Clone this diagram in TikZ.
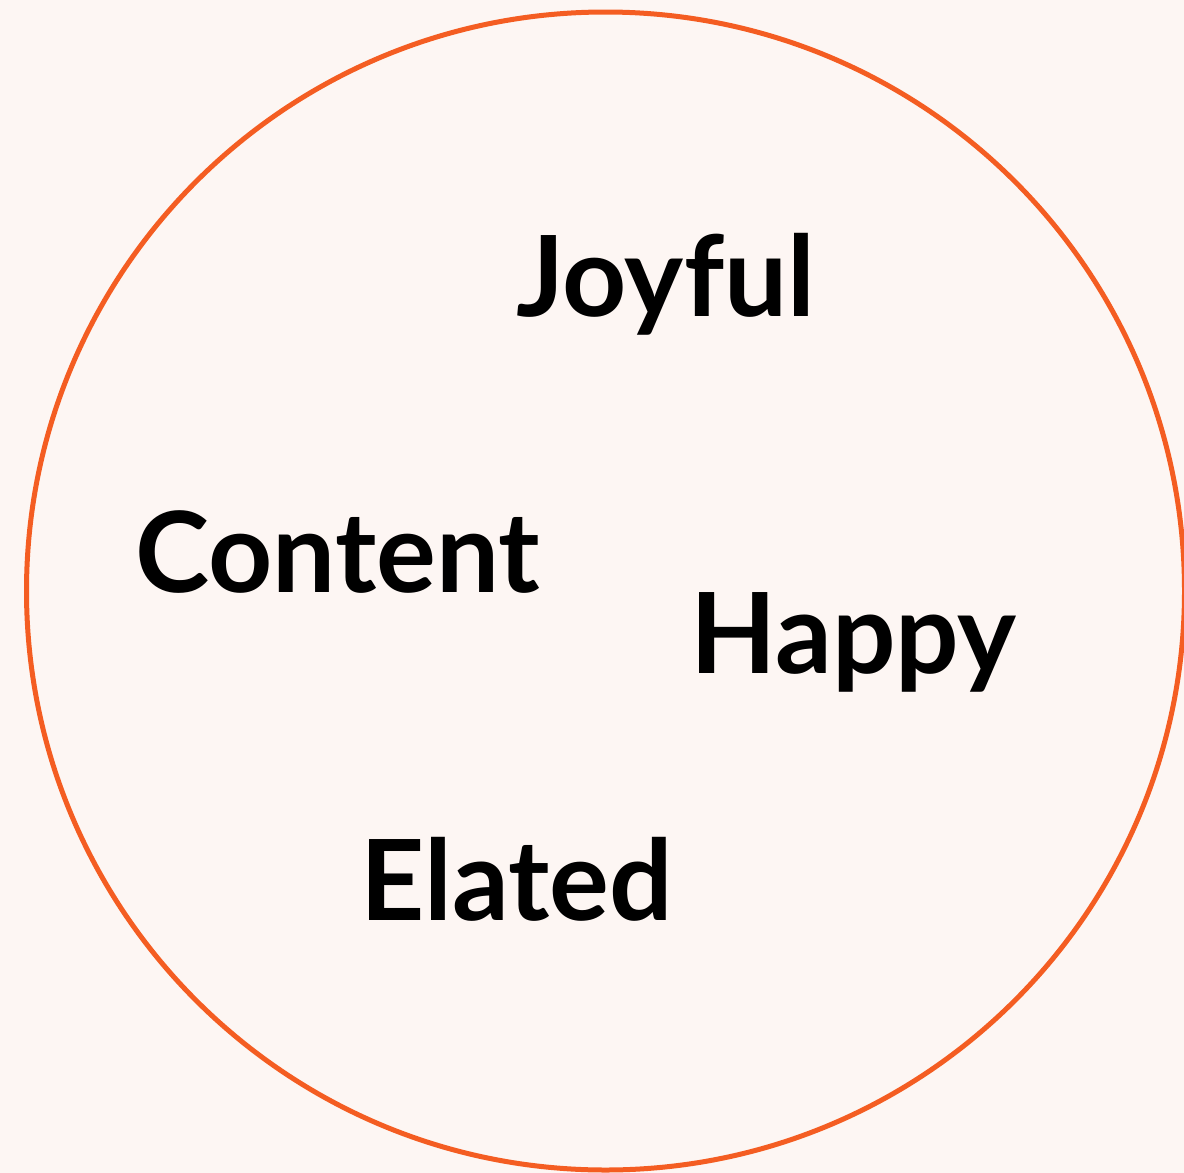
\documentclass[tikz,border=0pt]{standalone}
\usepackage{fontspec}
\setmainfont{Lato}
\usepackage{tikz}
\usetikzlibrary{positioning}
\definecolor{paper}{HTML}{FDF6F3}
\definecolor{ringorange}{HTML}{F45D22}

\begin{document}
\begin{tikzpicture}[x=1pt, y=-1pt,
                    every word/.style = {},
                    word/.style = {inner sep=0pt, anchor=base west, text=black, font=\fontsize{112}{116}\selectfont\bfseries, every word}]
                % background
                \fill[paper] (0,0) rectangle (1184,1173);
                \useasboundingbox (0,0) rectangle (1184,1173);
                % ring
                \node at (605.5,591) [circle, draw=ringorange, line width=5pt, minimum size=1158pt, inner sep=0pt] (ring) {};
                % words
                \node at (516,316) [word] (joyful) {Joyful};
                \node at (135,592) [word] (content) {Content};
                \node at (690,673) [word] (happy) {Happy};
                \node at (360,920) [word] (elated) {Elated};
            \end{tikzpicture}
\end{document}
